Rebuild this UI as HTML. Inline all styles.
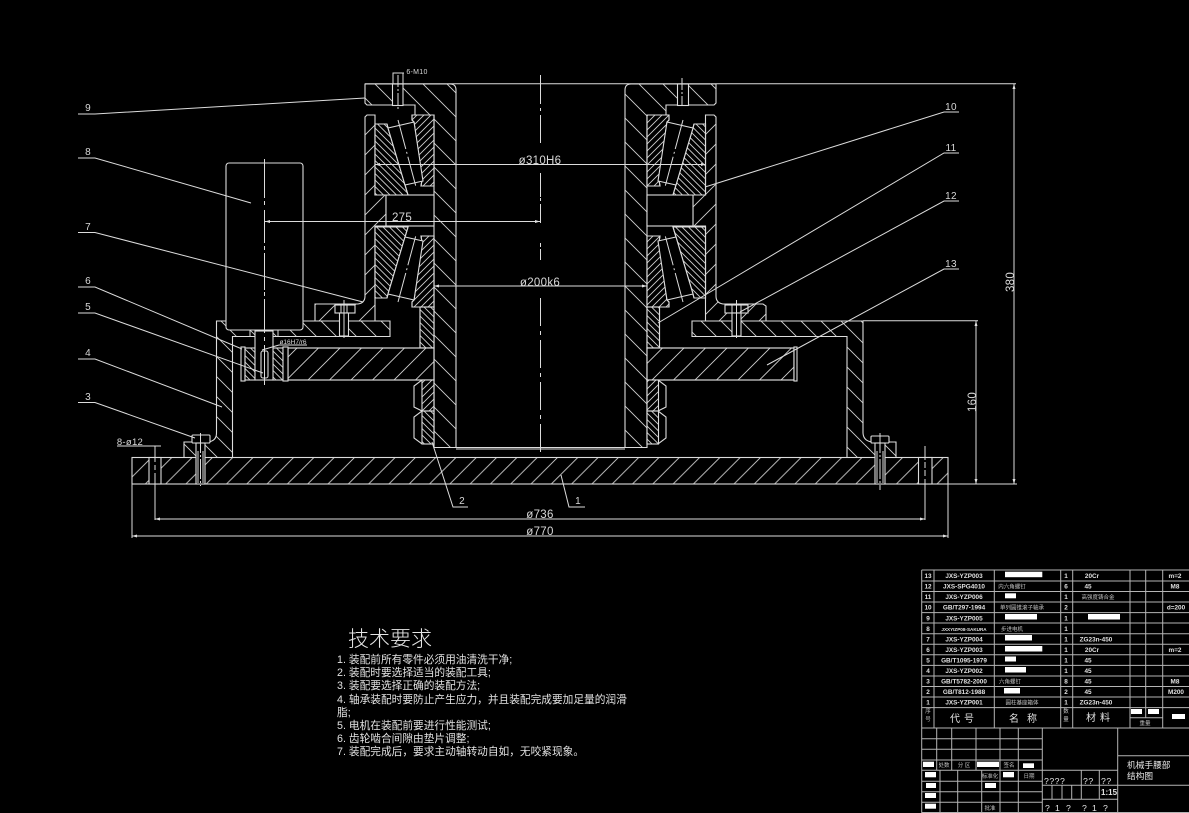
<!DOCTYPE html>
<html><head><meta charset="utf-8"><style>
html,body{margin:0;padding:0;background:#000;width:1189px;height:813px;overflow:hidden}
svg{display:block}
.l{stroke:#dcdcdc;stroke-width:1;fill:none}
.o{stroke:#dcdcdc;stroke-width:1.1}
.c{stroke:#dcdcdc;stroke-width:1;fill:none}
.t{fill:#d8d8d8;font-family:"Liberation Sans",sans-serif;font-size:11.5px;text-anchor:middle;letter-spacing:.3px}
.cn{fill:#e2e2e2;font-family:"Liberation Sans","Noto Sans CJK SC",sans-serif;font-size:10.7px}
.s{fill:#e0e0e0;font-family:"Liberation Sans","Noto Sans CJK SC",sans-serif;font-size:6.4px;text-anchor:middle;font-weight:bold}
.z{fill:#c0c0c0;font-family:"Liberation Sans","Noto Sans CJK SC",sans-serif;font-size:5.5px;text-anchor:middle}
.g{stroke:#b4b4b4;stroke-width:1;fill:none}
.w{fill:#fff}
</style></head><body>
<svg width="1189" height="813" viewBox="0 0 1189 813" xmlns="http://www.w3.org/2000/svg">
<defs>
<pattern id="a" width="24" height="24" patternUnits="userSpaceOnUse" patternTransform="translate(3,0)"><path d="M0,0L24,24M-1,23L1,25M23,-1L25,1" stroke="#cfcfcf" stroke-width=".9"/></pattern>
<pattern id="b" width="20" height="20" patternUnits="userSpaceOnUse"><path d="M0,20L20,0M-1,1L1,-1M19,21L21,19" stroke="#cfcfcf" stroke-width=".9"/></pattern>
<pattern id="c" width="6.5" height="6.5" patternUnits="userSpaceOnUse"><path d="M0,0L6.5,6.5M-1,5.5L1,7.5M5.5,-1L7.5,1" stroke="#cfcfcf" stroke-width=".9"/></pattern>
<pattern id="d" width="7" height="7" patternUnits="userSpaceOnUse"><path d="M0,7L7,0M-1,1L1,-1M6,8L8,6" stroke="#cfcfcf" stroke-width=".9"/></pattern>
<pattern id="e" width="20.3" height="20.3" patternUnits="userSpaceOnUse"><path d="M0,20.3L20.3,0M-1,1L1,-1M19.3,21.3L21.3,19.3" stroke="#cfcfcf" stroke-width=".9"/></pattern>
<pattern id="f" width="20" height="20" patternUnits="userSpaceOnUse"><path d="M0,0L20,20M-1,19L1,21M19,-1L21,1" stroke="#cfcfcf" stroke-width=".9"/></pattern>
<pattern id="h" width="21.5" height="21.5" patternUnits="userSpaceOnUse"><path d="M0,21.5L21.5,0M-1,1L1,-1M20.5,22.5L22.5,20.5" stroke="#cfcfcf" stroke-width=".9"/></pattern>
</defs>
<rect width="1189" height="813" fill="#000"/>

<!-- housing plates -->
<path class="o" fill="url(#f)" d="M216.5,321H390V336.5H232.5V457.5H184V442H208Q216.5,441 216.5,433Z"/>
<path class="o" fill="url(#f)" d="M692,321H863V433Q863.5,441 872,442H896V457.5H847V336.5H692Z"/>
<!-- base -->
<rect class="o" x="132" y="457.5" width="816" height="26.5" fill="url(#e)"/>
<!-- upper housing -->
<path class="o" fill="url(#b)" d="M367,115H375V195H386V226H375V321H315V304H358Q365,303 365,296V117Z"/>
<path class="o" fill="url(#b)" d="M714,115H705.5V195H693V226H705.5V321H766V306L763,304H723Q716,303 716,296V117Z"/>
<!-- sleeves -->
<path class="o" fill="url(#a)" d="M365,84H450Q456,84 456,90V447.5H434V115H415V105H367L365,103Z"/>
<path class="o" fill="url(#a)" d="M716,84H631Q625,84 625,90V447.5H647V115H666V105H714L716,103Z"/>
<path class="l" d="M456,447.5H625M456,449H625"/>
<!-- spacer blocks -->
<rect x="386" y="195" width="48" height="31" fill="#000" class="o"/>
<rect x="647" y="195" width="46" height="31" fill="#000" class="o"/>
<!-- bearings -->
<polygon class="o" fill="#000" points="375,124 387,124 388,128 408,195 375,195"/><polygon class="o" fill="url(#c)" points="375,124 387,124 388,128 408,195 375,195"/>
<polygon class="o" fill="#000" points="412,115 434,115 434,186 421,186 422,180 414,122 412,120"/><polygon class="o" fill="url(#d)" points="412,115 434,115 434,186 421,186 422,180 414,122 412,120"/>
<polygon class="o" fill="#000" points="388,128 414,122 423,181 405,185"/>
<polygon class="o" fill="#000" points="375,298 387,298 388,294 408,227 375,227"/><polygon class="o" fill="url(#c)" points="375,298 387,298 388,294 408,227 375,227"/>
<polygon class="o" fill="#000" points="412,307 434,307 434,236 421,236 422,242 414,300 412,302"/><polygon class="o" fill="url(#d)" points="412,307 434,307 434,236 421,236 422,242 414,300 412,302"/>
<polygon class="o" fill="#000" points="388,294 414,300 423,241 405,237"/>
<polygon class="o" fill="#000" points="705.5,124 694,124 693,128 673,195 705.5,195"/><polygon class="o" fill="url(#c)" points="705.5,124 694,124 693,128 673,195 705.5,195"/>
<polygon class="o" fill="#000" points="669,115 647,115 647,186 660,186 659,180 667,122 669,120"/><polygon class="o" fill="url(#d)" points="669,115 647,115 647,186 660,186 659,180 667,122 669,120"/>
<polygon class="o" fill="#000" points="693,128 667,122 658,181 676,185"/>
<polygon class="o" fill="#000" points="705.5,298 694,298 693,294 673,227 705.5,227"/><polygon class="o" fill="url(#c)" points="705.5,298 694,298 693,294 673,227 705.5,227"/>
<polygon class="o" fill="#000" points="669,307 647,307 647,236 660,236 659,242 667,300 669,302"/><polygon class="o" fill="url(#d)" points="669,307 647,307 647,236 660,236 659,242 667,300 669,302"/>
<polygon class="o" fill="#000" points="693,294 667,300 658,241 676,237"/>
<g class="c" stroke-dasharray="30 3 2 3"><path d="M398,120L416,187M398,302L416,235M683,120L665,187M683,302L665,235"/></g>
<!-- spacers under bearings -->
<rect class="o" x="420" y="307" width="14" height="41" fill="#000"/><rect class="o" x="420" y="307" width="14" height="41" fill="url(#c)"/>
<rect class="o" x="647" y="307" width="12.5" height="41" fill="#000"/><rect class="o" x="647" y="307" width="12.5" height="41" fill="url(#c)"/>
<!-- gears -->
<rect class="o" x="288" y="348" width="146" height="32" fill="#000"/><rect class="o" x="288" y="348" width="146" height="32" fill="url(#h)"/>
<rect class="o" x="647" y="348" width="147" height="32" fill="#000"/><rect class="o" x="647" y="348" width="147" height="32" fill="url(#h)"/>
<rect class="o" x="794" y="347" width="3" height="34" fill="#000"/>
<rect class="o" x="241" y="347" width="4" height="34" fill="#000"/>
<rect class="o" x="245" y="348" width="10" height="32" fill="url(#c)"/>
<rect class="o" x="273" y="348" width="10" height="32" fill="url(#c)"/>
<rect class="o" x="283" y="347" width="5" height="34" fill="#000"/>
<!-- motor and shaft -->
<rect class="o" x="255" y="331" width="18" height="49" fill="#000"/>
<rect class="o" x="261" y="351" width="7" height="27" rx="2" fill="#000"/>
<path class="l" d="M250,330.5V337M278,330.5V337"/>
<rect class="o" x="226" y="163" width="77" height="167" rx="3" fill="#000"/>
<!-- retaining rings -->
<path class="o" fill="#000" d="M422,380L414,386V407L422,411L414,417V438L422,444H434V380Z"/>
<rect class="o" x="422" y="380" width="12" height="31" fill="url(#d)"/><rect class="o" x="422" y="411" width="12" height="33" fill="url(#c)"/>
<path class="o" fill="#000" d="M658,380L666,386V407L658,411L666,417V438L658,444H647V380Z"/>
<rect class="o" x="647" y="380" width="11.5" height="31" fill="url(#d)"/><rect class="o" x="647" y="411" width="11.5" height="33" fill="url(#c)"/>
<!-- top bolts -->
<rect class="o" x="392.5" y="84" width="10.5" height="21.5" fill="#000"/>
<rect class="o" x="677.5" y="84" width="11" height="21.5" fill="#000"/>
<path class="l" d="M393,84V73H403V84"/>
<path class="c" stroke-dasharray="12 2 2 2" d="M398,75V110M682,78V106"/>
<!-- clamp screws -->
<rect class="o" x="335" y="305" width="20" height="8" fill="#000"/><rect class="o" x="339.5" y="313" width="9" height="23" fill="#000"/>
<rect class="o" x="725" y="305" width="23" height="8" fill="#000"/><rect class="o" x="732" y="313" width="9" height="23" fill="#000"/>
<path class="c" d="M344,300V338M736.5,300V338M341,305V313M347,305V313M732,305V313M741,305V313"/>
<!-- base bolts -->
<rect class="o" x="192" y="435" width="18" height="8" rx="1" fill="#000"/><rect class="o" x="196" y="443" width="9" height="41" fill="#000"/>
<rect class="o" x="871" y="436" width="18" height="7" rx="1" fill="#000"/><rect class="o" x="875" y="443" width="10" height="41" fill="#000"/>
<path class="c" d="M198,451V483M203,451V483M877,451V483M883,451V483"/>
<path class="c" stroke-dasharray="20 2 2 2" d="M200.5,433V486M880,433V490"/>
<!-- base holes -->
<rect class="o" x="149" y="457.5" width="12" height="26.5" fill="#000"/><rect class="o" x="918.5" y="457.5" width="13.5" height="26.5" fill="#000"/>
<!-- centre lines -->
<g class="c" stroke="#e8e8e8">
<path d="M540.5,75V104M540.5,108V111M540.5,115V143M540.5,173V197M540.5,198V201M540.5,204V223M540.5,243V247M540.5,249V260M540.5,298V326M540.5,331V335M540.5,340V368M540.5,373V377M540.5,382V410M540.5,415V419M540.5,424V452"/>
<path d="M264.5,159V198M264.5,201V205M264.5,210V243M264.5,246V250M264.5,253V290M264.5,292V296M264.5,299V333M264.5,337V341M264.5,345V385"/>
<path d="M155,446V462M155,465V470M155,473V519M925,462V468M925,470V476M925,479V519M925,446V460" />
</g>
<!-- dimensions -->
<g class="l">
<path d="M365,83.7H1016M863,320.7H978M948,484H1017M132,484V538M948,484V538M155,484V520M925,484V520"/>
<path d="M976,321V484M1014,84V484M155,519H925M132,536H948"/>
<path d="M375,164.5H706M434,286H647M265,221.5H540"/>
<path d="M117,446H161M393,73H404"/>
<path d="M279,345H307M279,345L262,350"/>
</g>
<g fill="#e0e0e0">
<path d="M155,519l5,-1.5v3zM925,519l-5,-1.5v3zM132,536l5,-1.5v3zM948,536l-5,-1.5v3zM540,221.5l-5,-1.5v3zM265,221.5l5,-1.5v3zM976,321l-1.5,5h3zM976,484l-1.5,-5h3zM1014,84l-1.5,5h3zM1014,484l-1.5,-5h3zM434,286l5,-1.5v3zM647,286l-5,-1.5v3zM375,164.5l5,-1.5v3zM706,164.5l-5,-1.5v3z"/>
</g>
<text class="t" x="540" y="164">ø310H6</text>
<text class="t" x="540" y="286">ø200k6</text>
<text class="t" x="402" y="221">275</text>
<text class="t" x="540" y="518">ø736</text>
<text class="t" x="540" y="535">ø770</text>
<text class="t" x="130" y="445" style="font-size:9.5px">8-ø12</text>
<text class="t" x="417" y="74" style="font-size:7px">6-M10</text>
<text class="t" x="293" y="344" style="font-size:6.5px;letter-spacing:0">ø16H7/r6</text>
<text class="t" transform="translate(976,402) rotate(-90)" y="0">160</text>
<text class="t" transform="translate(1014,282) rotate(-90)" y="0">380</text>
<!-- leaders -->
<g class="l">
<path d="M78,114H95L365,98"/>
<path d="M78,158H95L251,203"/>
<path d="M78,232.5H95L363,302"/>
<path d="M78,287H95L242,349"/>
<path d="M78,313H95L263,373"/>
<path d="M78,359H95L222,407"/>
<path d="M78,402.5H95L195,438"/>
<path d="M432,442L453,507H468"/>
<path d="M561,475L569,507H585"/>
<path d="M959,112H944L705,187"/>
<path d="M959,153H944L658,323"/>
<path d="M959,201H944L740,312"/>
<path d="M959,269H944L767,365"/>
</g>
<g class="t" style="font-size:10px">
<text x="88" y="111">9</text><text x="88" y="155">8</text><text x="88" y="230">7</text><text x="88" y="284">6</text><text x="88" y="310">5</text><text x="88" y="356">4</text><text x="88" y="400">3</text>
<text x="462" y="504">2</text><text x="578" y="504">1</text>
<text x="951" y="110">10</text><text x="951" y="151">11</text><text x="951" y="199">12</text><text x="951" y="267">13</text>
</g>
<!-- technical requirements -->
<text x="348" y="646" style="font-family:'Noto Sans CJK SC','WenQuanYi Zen Hei',sans-serif;font-size:21px;font-weight:300;fill:#e6e6e6">技术要求</text>
<g class="cn">
<text x="337" y="663">1. 装配前所有零件必须用油清洗干净;</text>
<text x="337" y="676">2. 装配时要选择适当的装配工具;</text>
<text x="337" y="689">3. 装配要选择正确的装配方法;</text>
<text x="337" y="703">4. 轴承装配时要防止产生应力&#65292;并且装配完成要加足量的润滑</text>
<text x="337" y="716">脂;</text>
<text x="337" y="729">5. 电机在装配前要进行性能测试;</text>
<text x="337" y="742">6. 齿轮啮合间隙由垫片调整;</text>
<text x="337" y="755">7. 装配完成后&#65292;要求主动轴转动自如&#65292;无咬紧现象。</text>
</g>
<!-- parts table -->
<g class="g">
<path d="M921.7,570H1189M921.7,581H1189M921.7,591.5H1189M921.7,602H1189M921.7,612.6H1189M921.7,623H1189M921.7,633.7H1189M921.7,644.3H1189M921.7,654.8H1189M921.7,665.4H1189M921.7,676H1189M921.7,686.5H1189M921.7,697H1189M921.7,707.6H1189M921.7,728H1189M921.7,738.7H1042M921.7,749.3H1042M921.7,760H1042M921.7,770.3H1117.7M921.7,781.3H1042M921.7,791.7H1042M921.7,802.3H1042M921.7,812.5H1189"/>
<path d="M921.7,570V813M934,570V728M994.3,570V728M1060.7,570V728M1072.7,570V728M1130,570V728M1145.7,570V717.7M1162.7,570V728M1130,717.7H1162.7"/>
<path d="M936.7,728V770M951.7,728V770M976,728V770M1000,728V813M1018.3,728V813M1042.3,728V813M940,770V813M957.7,770V813M981.7,770V813"/>
<path d="M1117.7,728V813M1117.7,755.7H1189M1117.7,785.3H1189M1042,785.3H1117.7M1042,799.3H1117.7M1081.3,770V799.3M1099.3,770V799.3M1052,785.3V799.3M1062,785.3V799.3M1071.7,785.3V799.3"/>
</g>
<g class="w">
<rect x="1005" y="571.7" width="37.3" height="5.5"/>
<rect x="1005" y="593.3" width="11" height="5"/>
<rect x="1005" y="614" width="32" height="5.5"/><rect x="1088" y="614" width="32" height="5.5"/>
<rect x="1005" y="635" width="27" height="5.5"/>
<rect x="1005" y="646" width="37.3" height="5.5"/>
<rect x="1005" y="656.5" width="11" height="5"/>
<rect x="1005" y="667" width="21" height="5.5"/>
<rect x="1004" y="688" width="16" height="5.5"/>
<rect x="1131" y="709" width="11" height="5"/><rect x="1148" y="709" width="11" height="5"/><rect x="1172" y="714" width="13" height="5"/>
<rect x="923" y="761.7" width="11" height="5.3"/><rect x="977" y="761.7" width="22" height="5.3"/><rect x="1023" y="763.3" width="11" height="4.7"/>
<rect x="925" y="772" width="11" height="5.3"/><rect x="1003" y="772" width="11" height="5.3"/>
<rect x="926" y="783" width="10" height="5"/><rect x="985" y="783" width="11" height="5"/>
<rect x="925" y="793" width="11" height="5"/><rect x="925" y="803.7" width="11" height="5"/>
</g>
<g class="s">
<text x="928" y="578">13</text><text x="928" y="588.5">12</text><text x="928" y="599">11</text><text x="928" y="609.5">10</text><text x="928" y="620.5">9</text><text x="928" y="631">8</text><text x="928" y="641.5">7</text><text x="928" y="652">6</text><text x="928" y="662.5">5</text><text x="928" y="673">4</text><text x="928" y="683.5">3</text><text x="928" y="694">2</text><text x="928" y="704.5">1</text>
<text x="964" y="578">JXS-YZP003</text><text x="964" y="588.5">JXS-SPG4010</text><text x="964" y="599">JXS-YZP006</text><text x="964" y="609.5">GB/T297-1994</text><text x="964" y="620.5">JXS-YZP005</text><text x="964" y="631" style="font-size:4.6px">JXXYIZP08-SAKURA</text><text x="964" y="641.5">JXS-YZP004</text><text x="964" y="652">JXS-YZP003</text><text x="964" y="662.5">GB/T1095-1979</text><text x="964" y="673">JXS-YZP002</text><text x="964" y="683.5">GB/T5782-2000</text><text x="964" y="694">GB/T812-1988</text><text x="964" y="704.5">JXS-YZP001</text>
<text x="1066" y="578">1</text><text x="1066" y="588.5">6</text><text x="1066" y="599">1</text><text x="1066" y="609.5">2</text><text x="1066" y="620.5">1</text><text x="1066" y="631">1</text><text x="1066" y="641.5">1</text><text x="1066" y="652">1</text><text x="1066" y="662.5">1</text><text x="1066" y="673">1</text><text x="1066" y="683.5">8</text><text x="1066" y="694">2</text><text x="1066" y="704.5">1</text>
<text x="1092" y="578">20Cr</text><text x="1088" y="588.5">45</text><text x="1096" y="641.5">ZG23n-450</text><text x="1092" y="652">20Cr</text><text x="1088" y="662.5">45</text><text x="1088" y="673">45</text><text x="1088" y="683.5">45</text><text x="1088" y="694">45</text><text x="1096" y="704.5">ZG23n-450</text>
<text x="1175" y="578">m=2</text><text x="1175" y="588.5">M8</text><text x="1176" y="609.5">d=200</text><text x="1175" y="652">m=2</text><text x="1175" y="683.5">M8</text><text x="1176" y="694">M200</text>
</g>
<g class="z">
<text x="1012" y="588.5">内六角螺钉</text><text x="1098" y="599">高强度铸合金</text><text x="1022" y="609.5">单列圆锥滚子轴承</text><text x="1012" y="631">步进电机</text><text x="1010" y="683.5">六角螺钉</text><text x="1022" y="704.5">圆柱基座箱体</text>
<text x="928" y="713">序</text><text x="928" y="721">号</text><text x="1066" y="713">数</text><text x="1066" y="721">量</text><text x="1145" y="725">重量</text>
<text x="944" y="767">处数</text><text x="964" y="767">分 区</text><text x="1009" y="767">签名</text>
<text x="990" y="778">标准化</text><text x="1029" y="778">日期</text><text x="990" y="810">批准</text>
</g>
<g style="font-family:'Liberation Sans','Noto Sans CJK SC',sans-serif;fill:#e0e0e0;text-anchor:middle;font-size:10px">
<text x="964" y="722" style="letter-spacing:4px">代号</text>
<text x="1027" y="722" style="letter-spacing:8px">名称</text>
<text x="1100" y="721" style="letter-spacing:4px">材料</text>
</g>
<g style="font-family:'Liberation Sans','Noto Sans CJK SC',sans-serif;fill:#e4e4e4;font-size:8.7px">
<text x="1127" y="768">机械手腰部</text>
<text x="1127" y="779">结构图</text>
<text x="1044" y="784" style="letter-spacing:.5px">????</text>
<text x="1083" y="784" style="letter-spacing:.5px">??</text>
<text x="1101" y="784" style="letter-spacing:.5px">??</text>
<text x="1101" y="795" style="font-weight:bold;font-size:8px">1:15</text>
<text x="1045" y="811">?</text><text x="1055" y="811">1</text><text x="1066" y="811">?</text><text x="1082" y="811">?</text><text x="1092" y="811">1</text><text x="1103" y="811">?</text>
</g>
</svg>
</body></html>
